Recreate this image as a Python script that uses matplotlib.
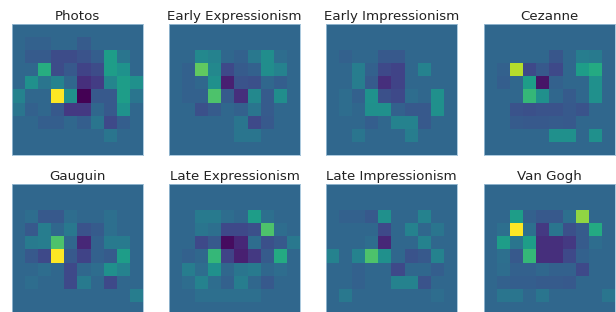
import matplotlib
matplotlib.use("Agg")
import matplotlib.pyplot as plt
import numpy as np

titles = ["Photos", "Early Expressionism", "Early Impressionism", "Cezanne",
          "Gauguin", "Late Expressionism", "Late Impressionism", "Van Gogh"]

# activation levels per cell (0 = darkest, 9 = brightest, 3 = background)
photos = [
    [3, 3, 3, 3, 3, 3, 3, 3, 3, 3],
    [3, 2.8, 2.8, 3, 3, 2.6, 3, 3, 3, 3],
    [3, 2.6, 2.6, 2.1, 2.1, 2.3, 2.7, 5.0, 3.5, 3],
    [3, 3, 5.6, 2.1, 2.5, 1.8, 2.1, 5.0, 4.6, 3],
    [3, 4.5, 3.5, 4.0, 3.0, 1.2, 1.6, 4.1, 5.0, 4.5],
    [4.0, 3.0, 3.0, 9.0, 4.5, 0.0, 2.5, 2.5, 5.0, 3.5],
    [3.5, 2.8, 3.0, 2.5, 1.5, 1.5, 3.0, 2.5, 4.6, 3],
    [3, 3, 2.7, 2.7, 3.0, 2.7, 3.5, 2.0, 2.7, 3],
    [3, 3, 3, 3, 3, 3, 3, 3.5, 3, 3],
    [3, 3, 3, 3, 3, 3, 3, 3, 3, 3],
]
early_expressionism = [
    [3, 3, 3, 3, 3, 3, 3, 3, 3, 3],
    [3, 3, 3, 3, 3, 3, 3, 3, 3, 3],
    [3, 3, 4.2, 4.0, 3.0, 2.8, 3.6, 4.4, 3.2, 3],
    [3, 2.8, 6.8, 4.2, 2.0, 2.6, 2.8, 4.4, 4.0, 3],
    [3, 2.8, 3.0, 4.5, 0.8, 2.3, 2.2, 3.0, 2.7, 3],
    [3, 2.8, 2.8, 6.5, 2.6, 1.2, 4.2, 2.6, 4.4, 3],
    [3, 3, 2.2, 2.6, 3.0, 2.8, 3.5, 2.6, 3, 3],
    [3, 3, 3, 3, 3, 3.5, 2.0, 2.5, 3, 3],
    [3, 3, 3, 3, 3, 3.5, 3.5, 3, 3, 3],
    [3, 3, 3, 3, 3, 3, 3, 3, 3, 3],
]
early_impressionism = [
    [3, 3, 3, 3, 3, 3, 3, 3, 3, 3],
    [3, 3, 3, 3, 3, 3, 3, 3, 3, 3],
    [3, 2.8, 3, 3, 2.5, 2.5, 3, 3, 3, 3],
    [3, 3, 3.8, 2.8, 2.0, 1.8, 3, 4.0, 3, 3],
    [3, 3, 3.8, 2.6, 1.2, 1.8, 3, 3, 3, 3],
    [3, 3.2, 2.8, 4.6, 2.2, 2.0, 3.2, 3.0, 4.5, 3],
    [3, 3.2, 3.0, 4.5, 4.5, 2.8, 2.5, 2.5, 4.5, 3],
    [3, 3, 3, 2.7, 3.0, 4.0, 4.0, 2.5, 3, 3],
    [3, 3, 3.5, 3, 3, 3, 3.8, 3, 3, 3],
    [3, 3, 3, 3, 3, 3, 3, 3, 3, 3],
]
cezanne = [
    [3, 3, 3, 3, 3, 3, 3, 3, 3, 3],
    [3, 3, 3, 3, 3, 3, 3, 3, 3, 3],
    [3, 3, 3, 3, 3, 2.4, 3, 3.8, 3.7, 3],
    [3, 2.8, 8.0, 2.0, 2.5, 2.0, 3.0, 5.0, 5.5, 3],
    [3, 2.7, 3.0, 5.0, 0.5, 2.8, 3.0, 3.0, 4.5, 3],
    [3, 3, 3, 6.0, 4.5, 3.0, 2.6, 3.0, 4.5, 3],
    [3, 3, 2.3, 2.2, 2.3, 2.3, 2.5, 2.3, 3, 3],
    [3, 3, 2.6, 2.5, 2.5, 2.6, 2.5, 3, 3, 3],
    [3, 3, 3, 3, 3, 4.5, 4.5, 3, 4.5, 3],
    [3, 3, 3, 3, 3, 3, 3, 3, 3, 3],
]
gauguin = [
    [3, 3, 3, 3, 3, 3, 3, 3, 3, 3],
    [3, 3, 3, 3, 3, 3, 3, 3, 3, 3],
    [3, 3.2, 2.5, 2.5, 3.2, 3, 3, 3.3, 3, 3],
    [3, 2.5, 3.8, 3.0, 3.6, 2.3, 2.6, 3.3, 3, 3],
    [3, 3.7, 3.8, 6.5, 3.0, 1.0, 2.8, 3.7, 3.7, 3],
    [3, 2.5, 2.0, 9.0, 2.5, 1.8, 2.8, 2.6, 5.0, 3],
    [3, 3, 3.2, 3.0, 2.0, 3.0, 3.2, 4.5, 4.0, 3],
    [3, 3.2, 3, 3, 2.0, 3.7, 3, 2.0, 3, 3],
    [3, 3, 3, 3, 3, 3, 3, 3, 3, 3.8],
    [3, 3, 3, 3, 3, 3, 3, 3, 3, 3],
]
late_expressionism = [
    [3, 3, 3, 3, 3, 3, 3, 3, 3, 3],
    [3, 3, 3, 3, 3, 3, 3, 3, 3, 3],
    [3, 3, 3.7, 3.7, 3.2, 3, 5.0, 3.3, 3, 3],
    [3, 3, 3.5, 3.3, 2.0, 2.0, 2.2, 6.5, 3.2, 3],
    [3, 3, 2.0, 2.5, 0.3, 1.0, 3.2, 2.2, 2.5, 3.6],
    [3, 2.8, 3.0, 6.0, 1.8, 0.8, 1.5, 2.6, 5.5, 3],
    [3, 3.8, 3.2, 4.5, 3.0, 3.5, 3.7, 3.0, 3.2, 3],
    [3, 3.2, 4.0, 3.2, 2.8, 3.8, 3.0, 2.5, 3, 3],
    [3, 3, 3.3, 3.3, 3.3, 3.3, 3.3, 3, 3, 3],
    [3, 3, 3, 3, 3, 3, 3, 3, 3, 3],
]
late_impressionism = [
    [3, 3, 3, 3, 3, 3, 3, 3, 3, 3],
    [3, 3, 3, 3, 3, 3, 3, 3, 3, 3],
    [3, 2.8, 2.8, 2.5, 4.5, 3, 3, 4.0, 3, 3],
    [3, 3, 3, 3, 2.0, 3, 4.0, 3, 3.5, 3],
    [3, 3, 3, 3.2, 1.0, 3, 3, 4.0, 3, 3],
    [4.0, 3, 4.0, 6.5, 4.5, 3.0, 2.3, 2.5, 4.0, 3],
    [3, 3, 2.8, 3, 3, 2.0, 3, 3, 2.7, 3],
    [3, 3, 2.8, 3, 3, 4.0, 4.0, 2.3, 3, 3],
    [3, 3.6, 3, 3, 3, 3, 3, 3, 3.2, 3],
    [3, 3, 3, 3, 3, 3, 3, 3, 3, 3],
]
van_gogh = [
    [3, 3, 3, 3, 3, 3, 3, 3, 3, 3],
    [3, 3, 3, 3, 3, 3, 3, 3, 3, 3],
    [3, 3, 5.0, 2.8, 2.5, 2.5, 3.3, 7.5, 3, 3],
    [3, 3.3, 9.0, 3.3, 1.5, 3.5, 2.2, 2.6, 5.5, 3],
    [3, 5.0, 3.5, 5.0, 1.2, 1.2, 1.5, 2.6, 3.2, 3],
    [3, 3.3, 2.5, 6.0, 1.2, 1.2, 2.0, 2.8, 3, 3],
    [3, 3.2, 2.8, 2.8, 3.0, 2.8, 2.8, 2.0, 3, 3],
    [3, 2.8, 2.7, 2.7, 2.6, 2.6, 2.5, 3, 3, 3],
    [3, 3.5, 3.5, 3, 3.5, 3, 3, 3, 3, 3.5],
    [3, 3, 3, 3, 3, 3, 3, 3, 3, 3],
]

grids = [photos, early_expressionism, early_impressionism, cezanne,
         gauguin, late_expressionism, late_impressionism, van_gogh]

fig = plt.figure(figsize=(6.16, 3.12), dpi=100)
W, H = 616, 312
lefts = [12, 169, 326, 484]
tops = [24, 184]
size = 131

for i, (title, grid) in enumerate(zip(titles, grids)):
    row, col = divmod(i, 4)
    x0 = lefts[col]
    y0 = tops[row]
    ax = fig.add_axes([x0 / W, 1 - (y0 + size) / H, size / W, size / H])
    ax.imshow(np.array(grid), cmap="viridis", vmin=0, vmax=9, interpolation="nearest")
    ax.set_xticks([])
    ax.set_yticks([])
    for s in ax.spines.values():
        s.set_color("#9ec0d8")
        s.set_linewidth(0.6)
    ax.set_title(title, fontsize=9.6, color="#222222", pad=3)

fig.savefig("out.png", dpi=100)
